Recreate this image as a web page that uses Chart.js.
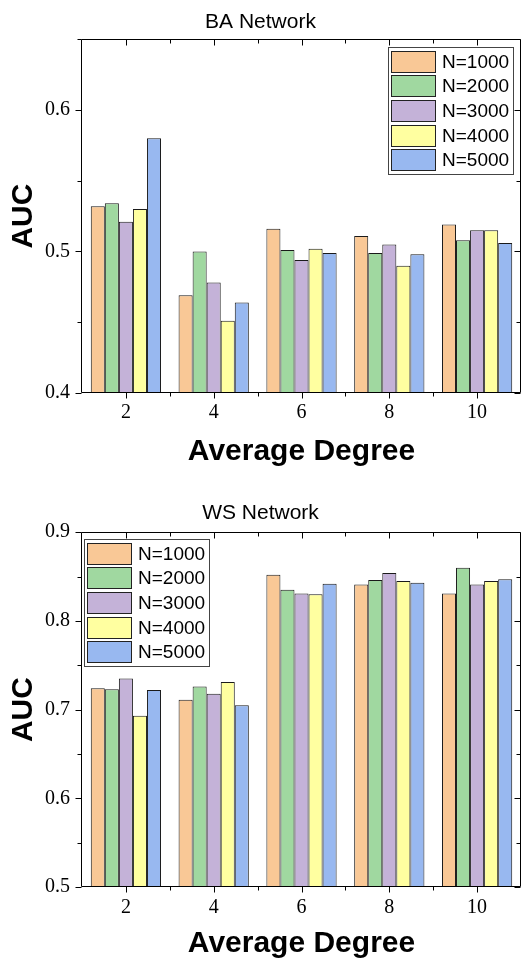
<!DOCTYPE html>
<html>
<head>
<meta charset="utf-8">
<script src="https://cdn.jsdelivr.net/npm/chart.js@4.4.1/dist/chart.umd.min.js"></script>
<style>
  html, body { margin: 0; padding: 0; background: #fff; }
  .wrap { position: absolute; left: 0; width: 522px; height: 481px; }
  #ba-wrap { top: 0; }
  #ws-wrap { top: 481px; }
</style>
</head>
<body>
<div class="wrap" id="ba-wrap"><canvas id="ba-chart"></canvas></div>
<div class="wrap" id="ws-wrap"><canvas id="ws-chart"></canvas></div>
<script>
// Average degree categories and series names
const degrees = ['2', '4', '6', '8', '10'];
const seriesLabels = ['N=1000', 'N=2000', 'N=3000', 'N=4000', 'N=5000'];
const seriesColors = ['#F9C896', '#A0D8A0', '#C4B2D8', '#FFFFA0', '#98B8F0'];

// BA network AUC
const baN1000 = [0.532, 0.469, 0.516, 0.511, 0.519];
const baN2000 = [0.534, 0.500, 0.501, 0.499, 0.508];
const baN3000 = [0.521, 0.478, 0.494, 0.505, 0.515];
const baN4000 = [0.530, 0.451, 0.502, 0.490, 0.515];
const baN5000 = [0.580, 0.464, 0.499, 0.498, 0.506];
const baTicks = [0.4, 0.5, 0.6];

// WS network AUC
const wsN1000 = [0.724, 0.711, 0.852, 0.841, 0.831];
const wsN2000 = [0.723, 0.726, 0.835, 0.846, 0.860];
const wsN3000 = [0.735, 0.718, 0.831, 0.854, 0.841];
const wsN4000 = [0.693, 0.731, 0.830, 0.845, 0.845];
const wsN5000 = [0.722, 0.705, 0.842, 0.843, 0.847];
const wsTicks = [0.5, 0.6, 0.7, 0.8, 0.9];

const SANS = '"Liberation Sans", Arial, sans-serif';
const SERIF = '"Liberation Serif", "Times New Roman", serif';

// frame around the plot with ticks on all four sides
const framePlugin = {
    id: 'frame',
    afterDatasetsDraw(chart, args, opts) {
        const { ctx, chartArea: a, scales: { x, y } } = chart;
        const major = opts.yTicks;
        ctx.save();
        ctx.strokeStyle = '#000';
        ctx.lineWidth = 1;
        const L = Math.round(a.left) - 0.5, R = Math.round(a.right) - 0.5;
        const T = Math.round(a.top) + 0.5, B = Math.round(a.bottom) - 0.5;
        ctx.beginPath();
        ctx.rect(L, T, R - L, B - T);

        // y ticks: out on the left, in on the right
        const yTick = (v, len) => {
            const py = Math.round(y.getPixelForValue(v)) + 0.5;
            ctx.moveTo(L - len, py); ctx.lineTo(L, py);
            ctx.moveTo(R - len, py); ctx.lineTo(R, py);
        };
        major.forEach(v => yTick(v, 6));
        for (let i = 0; i < major.length - 1; i++) yTick((major[i] + major[i + 1]) / 2, 4);
        const step = major[1] - major[0];
        const lastMinor = major[major.length - 1] + step / 2;
        if (lastMinor < y.max) yTick(lastMinor, 4);

        // x ticks: out at the bottom, in at the top
        const xTick = (px, len) => {
            px = Math.round(px) + 0.5;
            ctx.moveTo(px, B); ctx.lineTo(px, B + len);
            ctx.moveTo(px, T); ctx.lineTo(px, T + len);
        };
        const n = chart.data.labels.length;
        for (let i = 0; i < n; i++) xTick(x.getPixelForValue(i), 6);
        for (let i = 0; i < n - 1; i++) xTick((x.getPixelForValue(i) + x.getPixelForValue(i + 1)) / 2, 4);
        ctx.stroke();
        ctx.restore();
    }
};

// boxed legend drawn inside the plot area
const boxLegendPlugin = {
    id: 'boxLegend',
    afterDatasetsDraw(chart, args, opts) {
        const { ctx, chartArea: a } = chart;
        const sets = chart.data.datasets;
        ctx.save();
        ctx.font = '19px ' + SANS;
        const textW = Math.max(...sets.map(d => ctx.measureText(d.label).width));
        const rowH = 24.7, swW = 44, swH = 21;
        const w = Math.round(3 + swW + 7 + textW + 4);
        const h = Math.round(sets.length * rowH + 3);
        const left = Math.round(opts.side === 'right' ? a.right - opts.dx - w : a.left + opts.dx);
        const top = Math.round(a.top + opts.dy);
        ctx.fillStyle = '#fff';
        ctx.fillRect(left, top, w, h);
        ctx.strokeStyle = '#444';
        ctx.lineWidth = 1;
        ctx.strokeRect(left + 0.5, top + 0.5, w, h);
        sets.forEach((d, i) => {
            const sy = Math.round(top + 3.5 + i * rowH);
            ctx.fillStyle = d.backgroundColor;
            ctx.fillRect(left + 3, sy, swW, swH);
            ctx.strokeStyle = '#222';
            ctx.strokeRect(left + 3.5, sy + 0.5, swW, swH);
            ctx.fillStyle = '#000';
            ctx.textBaseline = 'middle';
            ctx.textAlign = 'left';
            ctx.fillText(d.label, left + 3 + swW + 7, sy + swH / 2 + 1);
        });
        ctx.restore();
    }
};

function makeChart(canvasId, title, series, yMin, yMax, yTicks, layout) {
    const ctx = document.getElementById(canvasId).getContext('2d');
    return new Chart(ctx, {
        type: 'bar',
        data: {
            labels: degrees,
            datasets: series.map((vals, i) => ({
                label: seriesLabels[i],
                data: vals,
                backgroundColor: seriesColors[i],
                borderColor: '#1a1a1a',
                borderWidth: 1,
                barPercentage: 1,
                categoryPercentage: 0.8
            }))
        },
        options: {
            responsive: true,
            maintainAspectRatio: false,
            animation: false,
            layout: { padding: { left: 0, right: 1, top: 0, bottom: 0 } },
            plugins: {
                legend: { display: false },
                tooltip: { enabled: false },
                title: {
                    display: true,
                    text: title,
                    color: '#000',
                    font: { family: SANS, size: 21, weight: 'normal', lineHeight: 1.2 },
                    padding: layout.titlePad
                },
                frame: { yTicks: yTicks },
                boxLegend: layout.legend
            },
            scales: {
                x: {
                    offset: true,
                    grid: { display: false, drawTicks: false, tickLength: 0 },
                    border: { display: false },
                    ticks: { color: '#000', font: { family: SERIF, size: 20 }, padding: layout.xLabelPad, maxRotation: 0 },
                    title: {
                        display: true,
                        text: 'Average Degree',
                        color: '#000',
                        font: { family: SANS, size: 30, weight: 'bold', lineHeight: 1.2 },
                        padding: { top: 0, bottom: layout.xTitlePad }
                    },
                    afterFit: s => { s.height = layout.xHeight; }
                },
                y: {
                    min: yMin,
                    max: yMax,
                    grid: { display: false, drawTicks: false, tickLength: 0 },
                    border: { display: false },
                    afterBuildTicks: s => { s.ticks = yTicks.map(v => ({ value: v })); },
                    ticks: {
                        color: '#000',
                        font: { family: SERIF, size: 20 },
                        padding: 12,
                        callback: v => v.toFixed(1)
                    },
                    title: {
                        display: true,
                        text: 'AUC',
                        color: '#000',
                        font: { family: SANS, size: 30, weight: 'bold', lineHeight: 1.2 },
                        padding: { top: 6, bottom: 0 }
                    },
                    afterFit: s => { s.width = 82; }
                }
            }
        },
        plugins: [framePlugin, boxLegendPlugin]
    });
}

makeChart('ba-chart', 'BA Network',
    [baN1000, baN2000, baN3000, baN4000, baN5000],
    0.4, 0.65, baTicks,
    {
        titlePad: { top: 10, bottom: 4 },
        xHeight: 88, xLabelPad: 8, xTitlePad: 11,
        legend: { side: 'right', dx: 8, dy: 8 }
    });

makeChart('ws-chart', 'WS Network',
    [wsN1000, wsN2000, wsN3000, wsN4000, wsN5000],
    0.5, 0.9, wsTicks,
    {
        titlePad: { top: 20, bottom: 6 },
        xHeight: 75, xLabelPad: 9, xTitlePad: 0,
        legend: { side: 'left', dx: 2, dy: 7 }
    });
</script>
</body>
</html>
